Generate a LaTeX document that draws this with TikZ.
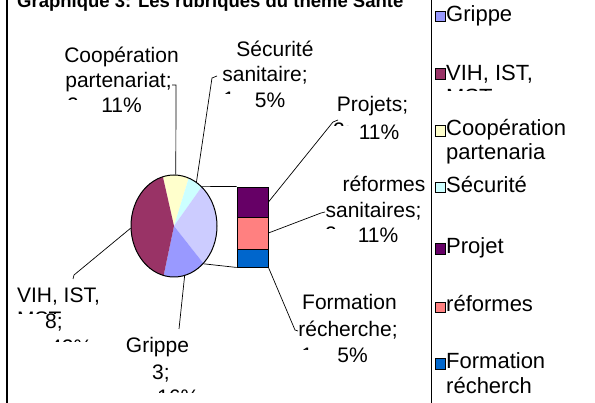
\documentclass[tikz,border=0pt]{standalone}
\usepackage{fontspec}
\setmainfont{Liberation Sans}
\usetikzlibrary{shapes.geometric}
\definecolor{gripc}{HTML}{9999FF}
\definecolor{vihc}{HTML}{993366}
\definecolor{coopc}{HTML}{FFFFCC}
\definecolor{secc}{HTML}{CCFFFF}
\definecolor{othc}{HTML}{CCCCFF}
\definecolor{projc}{HTML}{660066}
\definecolor{refc}{HTML}{FF8080}
\definecolor{formc}{HTML}{0066CC}
\newcommand{\partline}[6]{% name, style, x, baseline y, clip y, text
  \begin{scope}\clip (0,0) rectangle (595,#5);
  \node[#2] (#1) at (#3,#4) {#6};\end{scope}}
\newcommand{\pieslice}[3]{%
  \fill[#1] (pc) -- plot[domain=#2:#3, samples=40, variable=\t]
    ({174+43*cos(\t)},{226-51*sin(\t)}) -- cycle;}
\begin{document}
\begin{tikzpicture}[x=1pt,y=-1pt,
  lab/.style={font=\fontsize{21}{25}\selectfont, inner sep=0pt, anchor=base},
  labw/.style={font=\fontsize{21}{25}\selectfont, inner sep=0pt, anchor=base west},
  leg/.style={font=\fontsize{22}{25}\selectfont, inner sep=0pt, anchor=base west},
  lead/.style={line width=0.7pt},
  sq/.style={draw, line width=0.7pt, minimum size=10.5pt, inner sep=0pt},
  seg/.style={draw, line width=0.9pt, minimum width=31pt, inner sep=0pt},
]
\useasboundingbox (0,0) rectangle (595,403);
\clip (0,0) rectangle (595,403);
\fill[white] (0,0) rectangle (595,403);

% frame
\draw[line width=2pt] (7,-5) -- (7,410);
\draw[line width=0.8pt] (431,-5) -- (431,410);

% title
\node[font=\bfseries\fontsize{18.5}{22}\selectfont, anchor=base west, inner sep=0pt] (title) at (17,8) {Graphique 3: Les rubriques du thème Santé};

% pie
\coordinate (pc) at (174,226);
\pieslice{coopc}{70}{105}
\pieslice{secc}{50}{70}
\pieslice{othc}{-47}{50}
\pieslice{gripc}{-104}{-47}
\pieslice{vihc}{105}{256}
\node[ellipse, draw, line width=1pt, minimum width=86pt, minimum height=102pt, inner sep=0pt] (pie) at (174,226) {};

% bar
\node[seg, fill=projc, minimum height=30pt] (bproj) at (252.5,202) {};
\node[seg, fill=refc, minimum height=32pt] (bref) at (252.5,233) {};
\node[seg, fill=formc, minimum height=18pt] (bform) at (252.5,258) {};
\draw[lead] (pie.55) -- (bproj.north west);
\draw[lead] (pie.-52) -- (bform.south west);

% labels
\node[lab] (lcoop1) at (121.5,63) {Coopération};
\node[lab] (lcoop2) at (118.5,88) {partenariat;};
\node[lab] (lcoop3) at (121.5,113) {11\%};
\partline{lcoopf}{labw}{67}{113}{100}{2;}

\node[lab] (lsec1) at (275,57) {Sécurité};
\node[lab] (lsec2) at (265,82) {sanitaire;};
\node[lab] (lsec3) at (270,108) {5\%};
\partline{lsecf}{labw}{223}{107}{94}{1;}

\node[lab] (lproj1) at (372.5,112) {Projets;};
\node[lab] (lproj2) at (379,140) {11\%};
\partline{lprojf}{labw}{333}{138}{126}{2;}

\node[lab] (lref1) at (384,192) {réformes};
\node[lab] (lref2) at (373.5,218) {sanitaires;};
\node[lab] (lref3) at (378,243) {11\%};
\partline{lreff}{labw}{325}{242}{229}{2;}

\node[lab] (lform1) at (349.5,310) {Formation};
\node[lab] (lform2) at (348,337) {récherche;};
\node[lab] (lform3) at (352.5,363) {5\%};
\partline{lformf}{labw}{301}{363}{350}{1;}

\node[lab] (lvih1) at (58.5,303) {VIH, IST,};
\partline{lvihf}{labw}{17}{327}{313.5}{MST}
\node[lab] (lvih2) at (54,329) {8;};
\partline{lvihg}{labw}{50}{355}{342}{42\%}

\node[lab] (lgrip1) at (157.5,353) {Grippe};
\node[lab] (lgrip2) at (161,380) {3;};
\partline{lgripf}{labw}{157}{405}{393}{16\%}

% leaders
\coordinate (ccoop) at (172,85);
\draw[lead] (ccoop) -- (176,85) -- (pie.88);
\coordinate (csec) at (217,76);
\draw[lead] (csec) -- (212,78) -- (pie.63);
\coordinate (cproj) at (338,120);
\draw[lead] (cproj) -- (333,122) -- (bproj.east);
\coordinate (cref) at (325,212);
\draw[lead] (cref) -- (321,213) -- (bref.east);
\coordinate (cform) at (298,331);
\draw[lead] (bform.south east) -- (295,330) -- (cform);
\coordinate (cgrip) at (179,329);
\draw[lead] (pie.-78) -- (cgrip);
\coordinate (cvih) at (73,279);
\draw[lead] (pie.183) -- (74,275) -- (cvih);

% legend
\node[sq, fill=gripc] (sq1) at (440.5,16.5) {};
\node[leg] (lg1) at (446,22) {Grippe};
\node[sq, fill=vihc] (sq2) at (440.5,74) {};
\node[leg] (lg2) at (446,81) {VIH, IST,};
\partline{lg2f}{leg}{446}{105}{91}{MST}
\node[sq, fill=coopc] (sq3) at (440.5,131) {};
\node[leg] (lg3) at (446,136) {Coopération};
\node[leg] (lg3b) at (446,160) {partenaria};
\node[sq, fill=secc] (sq4) at (440.5,187.5) {};
\node[leg] (lg4) at (446,193) {Sécurité};
\node[sq, fill=projc] (sq5) at (440.5,249) {};
\node[leg] (lg5) at (446,254) {Projet};
\node[sq, fill=refc] (sq6) at (440.5,307.5) {};
\node[leg] (lg6) at (446,312) {réformes};
\node[sq, fill=formc] (sq7) at (440.5,364) {};
\node[leg] (lg7) at (446,369) {Formation};
\node[leg] (lg7b) at (446,394) {récherch};
\end{tikzpicture}
\end{document}
